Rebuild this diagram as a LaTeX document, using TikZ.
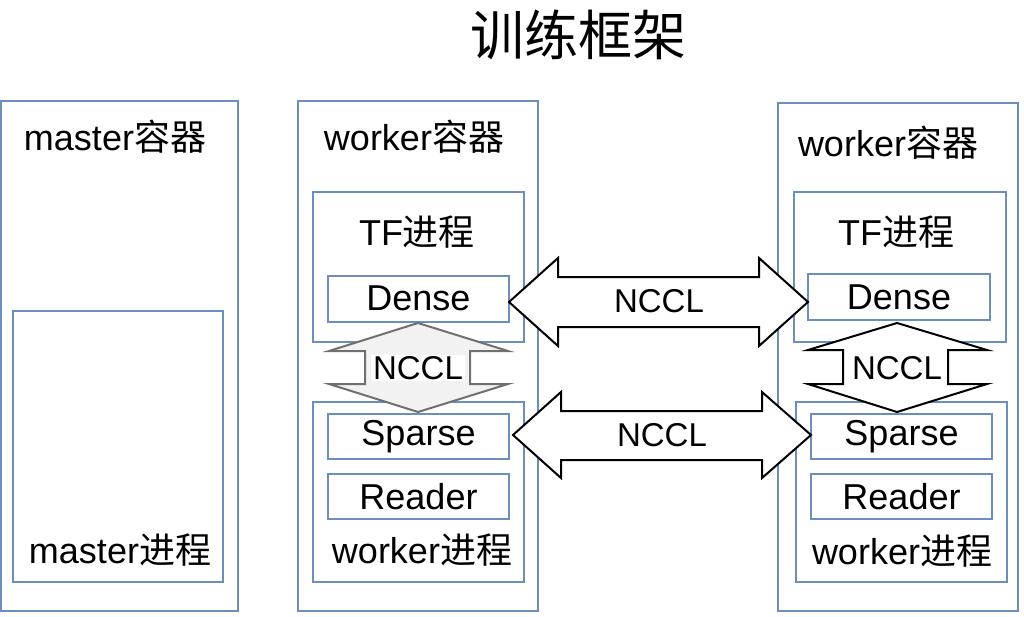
\documentclass[tikz,border=0pt]{standalone}
\usepackage{fontspec}
\setmainfont{Liberation Sans}
\newfontfamily\cjk{Noto Sans CJK SC}
\definecolor{boxblue}{HTML}{6C8EBF}
\definecolor{grayfill}{HTML}{F2F2F2}
\definecolor{graystroke}{HTML}{707070}
\begin{document}
\begin{tikzpicture}[x=1pt,y=-1pt,
  bluebox/.style={draw=boxblue,line width=2pt,fill=white},
  lbl/.style={font=\fontsize{36}{40}\selectfont,inner sep=0pt,anchor=center},
  nlbl/.style={font=\fontsize{33}{36}\selectfont,inner sep=0pt,anchor=center},
  bigarrow/.style={draw=black,line width=2pt,fill=white,line join=miter},
  grayarrow/.style={draw=graystroke,line width=2pt,fill=grayfill,line join=miter}]
\useasboundingbox (0,0) rectangle (1024,616);
% title
\node[font=\fontsize{54}{58}\selectfont\cjk,inner sep=0pt] (title) at (578,35) {训练框架};
% master container
\draw[bluebox] (1,101) rectangle (238,611);
\node[lbl] (mc) at (115,137) {master{\cjk 容器}};
\draw[bluebox] (13,311) rectangle (223,582);
\node[lbl] (mp) at (120,550) {master{\cjk 进程}};
% worker container 1
\draw[bluebox] (298,101) rectangle (538,611);
\node[lbl] (wc1) at (414,137) {worker{\cjk 容器}};
\draw[bluebox] (313,192) rectangle (524,342);
\node[lbl] (tf1) at (417,232) {TF{\cjk 进程}};
\node[bluebox,minimum width=181pt,minimum height=46pt,inner sep=0pt] (d1) at (418.5,298.5) {};
\node[lbl] at (d1.center) {Dense};
\draw[bluebox] (313,402) rectangle (524,582);
\node[bluebox,minimum width=181pt,minimum height=45pt,inner sep=0pt] (s1) at (418.5,436.5) {};
\node[lbl] at (s1.center) {Sparse};
\node[bluebox,minimum width=181pt,minimum height=45pt,inner sep=0pt] (r1) at (418.5,496.5) {};
\node[lbl] at (r1.center) {Reader};
\node[lbl] (wp1) at (422,550) {worker{\cjk 进程}};
% worker container 2
\draw[bluebox] (778,103) rectangle (1018,611);
\node[lbl] (wc2) at (888,143) {worker{\cjk 容器}};
\draw[bluebox] (794,192) rectangle (1006,342);
\node[lbl] (tf2) at (896,232) {TF{\cjk 进程}};
\node[bluebox,minimum width=182pt,minimum height=46pt,inner sep=0pt] (d2) at (899,297) {};
\node[lbl] at (d2.center) {Dense};
\draw[bluebox] (796,402) rectangle (1007,582);
\node[bluebox,minimum width=181pt,minimum height=45pt,inner sep=0pt] (s2) at (901.5,436.5) {};
\node[lbl] at (s2.center) {Sparse};
\node[bluebox,minimum width=181pt,minimum height=45pt,inner sep=0pt] (r2) at (901.5,496.5) {};
\node[lbl] at (r2.center) {Reader};
\node[lbl] (wp2) at (902,551) {worker{\cjk 进程}};
% horizontal NCCL arrows
\draw[bigarrow] (509,302) -- (558,258) -- (558,277) -- (759,277) -- (759,258) -- (808,302)
  -- (759,346) -- (759,327) -- (558,327) -- (558,346) -- cycle;
\node[nlbl] (n1) at (659,301) {NCCL};
\draw[bigarrow] (513,435) -- (561,392) -- (561,411) -- (762,411) -- (762,392) -- (811,435)
  -- (762,478) -- (762,460) -- (561,460) -- (561,478) -- cycle;
\node[nlbl] (n2) at (662,435) {NCCL};
% inner vertical NCCL arrows
\draw[grayarrow] (418,323) -- (508,351) -- (470,351) -- (470,384) -- (508,384) -- (418,412)
  -- (329,384) -- (365,384) -- (365,351) -- (329,351) -- cycle;
\node[nlbl,fill=white,inner xsep=2pt,inner ysep=1pt] (n3) at (418,368) {NCCL};
\draw[bigarrow] (897,323) -- (987,350) -- (948,350) -- (948,384) -- (987,384) -- (897,412)
  -- (808,384) -- (843,384) -- (843,350) -- (808,350) -- cycle;
\node[nlbl] (n4) at (897,368) {NCCL};
\end{tikzpicture}
\end{document}
